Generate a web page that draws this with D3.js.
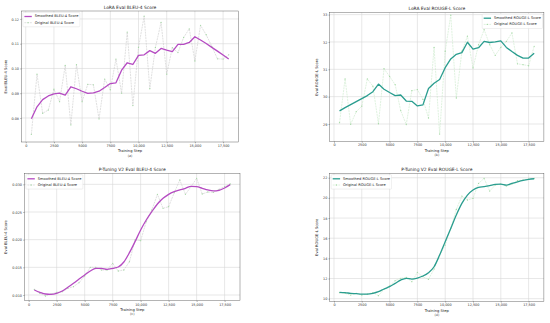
<!DOCTYPE html>
<html>
<head>
<meta charset="utf-8">
<script src="https://cdn.jsdelivr.net/npm/d3@7"></script>
<style>
  body { margin: 0; background: #fff; }
  svg { display: block; font-family: "DejaVu Sans", sans-serif; }
</style>
</head>
<body>
<svg id="chart" width="550" height="323"></svg>
<script>
// training steps shared by all four runs
const steps = [500, 1000, 1500, 2000, 2500, 3000, 3500, 4000, 4500, 5000, 5500, 6000,
  6500, 7000, 7500, 8000, 8500, 9000, 9500, 10000, 10500, 11000, 11500, 12000,
  12500, 13000, 13500, 14000, 14500, 15000, 15500, 16000, 16500, 17000, 17500, 18000];

const xTicks = [0, 2500, 5000, 7500, 10000, 12500, 15000, 17500];
const xTickLabels = ["0", "2500", "5000", "7500", "10,000", "12,500", "15,000", "17,500"];

// (a) LoRA BLEU-4
const loraBleuOrig = [0.0734, 0.0977, 0.0819, 0.0832, 0.0916, 0.0866, 0.1012, 0.0772, 0.1015, 0.0866,
  0.0936, 0.0934, 0.0796, 0.0957, 0.0914, 0.1038, 0.0900, 0.1147, 0.0850, 0.1085,
  0.1211, 0.0918, 0.1085, 0.1186, 0.0977, 0.1084, 0.1064, 0.1125, 0.1160, 0.1030,
  0.1174, 0.1136, 0.1089, 0.1039, 0.1038, 0.1055];
const loraBleuSmooth = [0.0797, 0.0845, 0.0874, 0.0889, 0.0897, 0.0900, 0.0892, 0.0926, 0.0918, 0.0908,
  0.0899, 0.0901, 0.0908, 0.0923, 0.0939, 0.0942, 0.0993, 0.1023, 0.1016, 0.1053,
  0.1055, 0.1072, 0.1061, 0.1081, 0.1074, 0.1068, 0.1097, 0.1097, 0.1105, 0.1128,
  0.1115, 0.1101, 0.1085, 0.1070, 0.1054, 0.1038];

// (b) LoRA ROUGE-L
const loraRougeOrig = [29.05, 30.65, 28.99, 29.45, 29.65, 30.65, 30.38, 29.01, 31.02, 30.74,
  30.44, 29.49, 28.98, 30.22, 30.26, 29.90, 29.22, 31.80, 28.63, 31.66,
  32.98, 29.95, 31.66, 32.21, 31.05, 31.90, 32.45, 31.90, 31.51, 31.80,
  32.02, 32.33, 31.20, 31.17, 31.13, 31.84];
const loraRougeSmooth = [29.48, 29.60, 29.71, 29.82, 29.93, 30.04, 30.18, 30.46, 30.27, 30.15,
  30.04, 30.06, 29.84, 29.83, 29.66, 29.70, 30.30, 30.49, 30.63, 31.06,
  31.38, 31.55, 31.61, 31.99, 31.74, 31.79, 32.02, 31.98, 32.00, 32.04,
  31.80, 31.65, 31.51, 31.41, 31.41, 31.59];

// (c) P-Tuning V2 BLEU-4
const ptBleuOrig = [0.01102, 0.01030, 0.00982, 0.01018, 0.01048, 0.01060, 0.01120, 0.01151, 0.01223, 0.01343,
  0.01500, 0.01500, 0.01452, 0.01452, 0.01572, 0.01434, 0.01452, 0.01602, 0.01994, 0.01982,
  0.02325, 0.02536, 0.02819, 0.02566, 0.02596, 0.02849, 0.03078, 0.02819, 0.02958, 0.03108,
  0.02825, 0.02861, 0.02855, 0.02910, 0.02958, 0.03006];
const ptBleuSmooth = [0.01090, 0.01048, 0.01018, 0.01012, 0.01030, 0.01072, 0.01139, 0.01211, 0.01289, 0.01361,
  0.01434, 0.01482, 0.01482, 0.01464, 0.01482, 0.01506, 0.01596, 0.01765, 0.01964, 0.02175,
  0.02355, 0.02506, 0.02645, 0.02747, 0.02819, 0.02867, 0.02898, 0.02928, 0.02964, 0.02958,
  0.02928, 0.02898, 0.02880, 0.02892, 0.02934, 0.02994];

// (d) P-Tuning V2 ROUGE-L
const ptRougeOrig = [10.60, 10.53, 10.36, 10.53, 10.36, 10.46, 10.60, 10.30, 10.93, 11.26,
  11.79, 12.02, 12.12, 11.69, 12.61, 12.18, 11.92, 12.94, 14.33, 15.32,
  16.98, 18.86, 20.18, 19.79, 19.95, 21.44, 21.93, 20.68, 21.27, 21.37,
  21.17, 21.37, 21.70, 21.77, 21.87, 21.93];
const ptRougeSmooth = [10.63, 10.60, 10.53, 10.50, 10.46, 10.46, 10.53, 10.69, 10.96, 11.19,
  11.52, 11.85, 12.02, 11.95, 12.05, 12.25, 12.58, 13.17, 14.33, 15.65,
  16.97, 18.30, 19.45, 20.28, 20.78, 21.04, 21.11, 21.21, 21.34, 21.37,
  21.27, 21.44, 21.60, 21.74, 21.84, 21.90];

const bleuTicks = [0.08, 0.09, 0.10, 0.11, 0.12];
const rougeTicks = [29, 30, 31, 32, 33];
const ptBleuTicks = [0.010, 0.015, 0.020, 0.025, 0.030];
const ptRougeTicks = [10, 12, 14, 16, 18, 20, 22];

const purple = "#b54bc2", teal = "#2a9d8f";

const svg = d3.select("#chart");
svg.append("rect").attr("width", 550).attr("height", 323).attr("fill", "#fff");

const panels = [
  { title: "LoRA Eval BLEU-4 Score", ylabel: "Eval BLEU-4 Score", tag: "(a)",
    orig: loraBleuOrig, smooth: loraBleuSmooth, yTicks: bleuTicks, yFmt: d3.format(".2f"),
    yDomain: [0.0703, 0.1232], box: [21.5, 11, 238.6, 142], ylx: 6,
    color: purple, origColor: "#c6c6c6", curve: d3.curveLinear, legendPos: "left",
    names: ["Smoothed BLEU-4 Score", "Original BLEU-4 Score"] },
  { title: "LoRA Eval ROUGE-L Score", ylabel: "Eval ROUGE-L Score", tag: "(b)",
    orig: loraRougeOrig, smooth: loraRougeSmooth, yTicks: rougeTicks, yFmt: d3.format("d"),
    yDomain: [28.36, 33.07], box: [329.8, 12.7, 543.9, 141.5], ylx: 316.5,
    color: teal, origColor: "#c4e8c4", curve: d3.curveLinear, legendPos: "right",
    names: ["Smoothed ROUGE-L Score", "Original ROUGE-L Score"] },
  { title: "P-Tuning V2 Eval BLEU-4 Score", ylabel: "Eval BLEU-4 Score", tag: "(c)",
    orig: ptBleuOrig, smooth: ptBleuSmooth, yTicks: ptBleuTicks, yFmt: d3.format(".3f"),
    yDomain: [0.00897, 0.03199], box: [24.5, 173.3, 240, 300.7], ylx: 6,
    color: purple, origColor: "#c6c6c6", curve: d3.curveMonotoneX, legendPos: "left",
    names: ["Smoothed BLEU-4 Score", "Original BLEU-4 Score"] },
  { title: "P-Tuning V2 Eval ROUGE-L Score", ylabel: "Eval ROUGE-L Score", tag: "(d)",
    orig: ptRougeOrig, smooth: ptRougeSmooth, yTicks: ptRougeTicks, yFmt: d3.format("d"),
    yDomain: [9.74, 22.44], box: [329.8, 173.3, 543.9, 301.3], ylx: 316.5,
    color: teal, origColor: "#c4e8c4", curve: d3.curveMonotoneX, legendPos: "left",
    names: ["Smoothed ROUGE-L Score", "Original ROUGE-L Score"] }
];

panels.forEach(drawPanel);

function drawPanel(p) {
  const [x0, y0, x1, y1] = p.box;
  const x = d3.scaleLinear().domain([-375, 18875]).range([x0, x1]);
  const y = d3.scaleLinear().domain(p.yDomain).range([y1, y0]);
  const g = svg.append("g");

  // grid
  g.selectAll(".vg").data(xTicks).enter().append("line")
    .attr("x1", d => x(d)).attr("x2", d => x(d)).attr("y1", y0).attr("y2", y1)
    .attr("stroke", "#d6d6d6").attr("stroke-width", 0.6);
  g.selectAll(".hg").data(p.yTicks).enter().append("line")
    .attr("x1", x0).attr("x2", x1).attr("y1", d => y(d)).attr("y2", d => y(d))
    .attr("stroke", "#d6d6d6").attr("stroke-width", 0.6);

  // axes
  const xAxis = d3.axisBottom(x).tickValues(xTicks)
    .tickFormat((d, i) => xTickLabels[i]).tickSize(1.3).tickPadding(1.2);
  const xa = g.append("g").attr("transform", `translate(0,${y1})`).call(xAxis);
  const yAxis = d3.axisLeft(y).tickValues(p.yTicks).tickFormat(p.yFmt).tickSize(1.3).tickPadding(1.2);
  const ya = g.append("g").attr("transform", `translate(${x0},0)`).call(yAxis);
  [xa, ya].forEach(a => {
    a.select(".domain").remove();
    a.selectAll("line").attr("stroke", "#444").attr("stroke-width", 0.4);
    a.selectAll("text").attr("font-size", 3.4).attr("fill", "#333")
      .attr("font-family", "DejaVu Sans");
  });

  // original (noisy) series
  const line = d3.line().x((d, i) => x(steps[i])).y(d => y(d));
  g.append("path").datum(p.orig).attr("d", line)
    .attr("fill", "none").attr("stroke", p.origColor).attr("stroke-width", 0.55)
    .attr("stroke-dasharray", "2,0.8");
  g.selectAll(".pt").data(p.orig).enter().append("circle")
    .attr("cx", (d, i) => x(steps[i])).attr("cy", d => y(d)).attr("r", 0.65)
    .attr("fill", "#a6d9a6");

  // smoothed series
  g.append("path").datum(p.smooth)
    .attr("d", line.curve(p.curve))
    .attr("fill", "none").attr("stroke", p.color).attr("stroke-width", 1.3)
    .attr("stroke-linejoin", "round");

  // frame
  g.append("rect").attr("x", x0).attr("y", y0).attr("width", x1 - x0).attr("height", y1 - y0)
    .attr("fill", "none").attr("stroke", "#444").attr("stroke-width", 0.4);

  // titles and labels
  const cx = (x0 + x1) / 2;
  g.append("text").attr("x", cx).attr("y", y0 - 2.5).attr("text-anchor", "middle")
    .attr("font-size", 4.4).attr("fill", "#222").text(p.title);
  g.append("text").attr("x", cx).attr("y", y1 + 9.4).attr("text-anchor", "middle")
    .attr("dominant-baseline", "central").attr("font-size", 3.7).attr("fill", "#222").text("Training Step");
  g.append("text").attr("x", cx).attr("y", y1 + 13.6).attr("text-anchor", "middle")
    .attr("dominant-baseline", "central").attr("font-size", 3.4).attr("fill", "#444").text(p.tag);
  g.append("text").attr("transform", `translate(${p.ylx},${(y0 + y1) / 2}) rotate(-90)`)
    .attr("text-anchor", "middle").attr("dominant-baseline", "central")
    .attr("font-size", 3.7).attr("fill", "#222").text(p.ylabel);

  // legend
  const fs = 3.6, rowH = 6.2, handle = 7.4, pad = 1.5;
  const lg = g.append("g");
  const box = lg.append("rect").attr("fill", "#fff").attr("fill-opacity", 0.85)
    .attr("stroke", "#d8d8d8").attr("stroke-width", 0.4).attr("rx", 0.8);
  const texts = p.names.map((n, i) => lg.append("text").attr("x", pad + handle + 2.9)
    .attr("y", pad + 2.6 + i * rowH).attr("dominant-baseline", "central")
    .attr("font-size", fs).attr("fill", "#222").text(n));
  const tw = d3.max(texts, t => t.node().getComputedTextLength());
  const bw = pad + handle + 2.9 + tw + pad, bh = pad * 2 + rowH * 2 - 1;
  box.attr("width", bw).attr("height", bh);
  lg.append("line").attr("x1", pad).attr("x2", pad + handle)
    .attr("y1", pad + 2.6).attr("y2", pad + 2.6)
    .attr("stroke", p.color).attr("stroke-width", 1.3);
  lg.append("line").attr("x1", pad).attr("x2", pad + handle)
    .attr("y1", pad + 2.6 + rowH).attr("y2", pad + 2.6 + rowH)
    .attr("stroke", p.origColor).attr("stroke-width", 0.55).attr("stroke-dasharray", "2,0.8");
  lg.append("circle").attr("cx", pad + handle / 2).attr("cy", pad + 2.6 + rowH).attr("r", 0.65)
    .attr("fill", "#a6d9a6");
  const lx = p.legendPos === "left" ? x0 + 1.4 : x1 - 1.4 - bw;
  lg.attr("transform", `translate(${lx},${y0 + 1.4})`);
}
</script>
</body>
</html>
